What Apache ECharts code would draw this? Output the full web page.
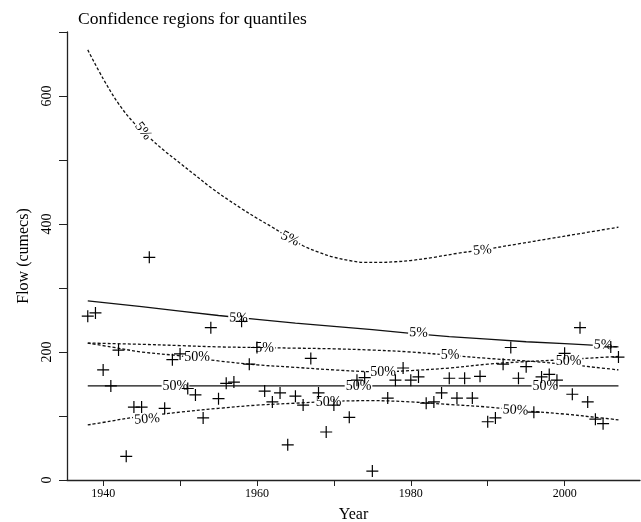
<!DOCTYPE html>
<html>
<head>
<meta charset="utf-8">
<script src="https://cdn.jsdelivr.net/npm/echarts@6/dist/echarts.min.js"></script>
<style>
  html, body { margin: 0; padding: 0; background: #fff; }
  #main { width: 641px; height: 522px; }
</style>
</head>
<body>
<div id="main"></div>
<script>
// observed annual maxima: [year, flow]
const obs = [
  [1938, 256], [1939, 261], [1940, 172], [1941, 147], [1942, 203], [1943, 37],
  [1944, 114], [1945, 114], [1946, 348], [1948, 112], [1949, 188], [1950, 197],
  [1951, 143], [1952, 133], [1953, 97], [1954, 238], [1955, 127], [1956, 151],
  [1957, 153], [1958, 248], [1959, 181], [1960, 207], [1961, 139], [1962, 122],
  [1963, 136], [1964, 55], [1965, 131], [1966, 117], [1967, 190], [1968, 136],
  [1969, 75], [1970, 117], [1972, 98], [1973, 156], [1974, 160], [1975, 14],
  [1977, 128], [1978, 156], [1979, 175], [1980, 156], [1981, 161], [1982, 120],
  [1983, 122], [1984, 136], [1985, 159], [1986, 128], [1987, 159], [1988, 128],
  [1989, 162], [1990, 91], [1991, 97], [1992, 181], [1993, 207], [1994, 159],
  [1995, 177], [1996, 106], [1997, 161], [1998, 165], [1999, 156], [2000, 198],
  [2001, 134], [2002, 238], [2003, 122], [2004, 95], [2005, 88], [2006, 208],
  [2007, 192]
];

// 5% quantile: estimate and bounds
const q5Upper = [
  [1938, 672], [1940, 627], [1942, 588], [1944, 558],
  [1946, 535], [1948, 514], [1950, 495], [1952, 476], [1954, 457], [1956, 440],
  [1958, 424], [1960, 409], [1962, 395], [1964, 380], [1966, 366], [1968, 356],
  [1970, 348], [1972, 343], [1974, 340], [1976, 340], [1978, 341], [1980, 343],
  [1983, 348], [1986, 354], [1990, 361], [1994, 369], [1998, 377], [2002, 385],
  [2007, 395]
];
const q5Est = [
  [1938, 280], [1945, 271], [1950, 264], [1955, 257], [1960, 251], [1965, 245],
  [1970, 240], [1975, 235], [1980, 229], [1985, 224], [1990, 220], [1995, 216],
  [2000, 213], [2003, 211], [2007, 208]
];
const q5Lower = [
  [1938, 214], [1945, 212], [1950, 210], [1955, 208], [1960, 207], [1965, 206],
  [1970, 205], [1975, 203], [1980, 200], [1985, 195], [1990, 190], [1995, 186],
  [2000, 181], [2004, 176], [2007, 172]
];

// 50% quantile: estimate and bounds
const q50Upper = [
  [1938, 214], [1941, 208], [1945, 200], [1950, 194], [1955, 186], [1960, 180],
  [1965, 176], [1970, 172], [1976, 169], [1980, 171], [1985, 175], [1990, 181],
  [1995, 185], [2000, 188], [2004, 191], [2007, 193]
];
const q50Est = [[1938, 147], [2007, 147]];
const q50Lower = [
  [1938, 86], [1941, 92], [1944, 98], [1947, 102], [1950, 106], [1955, 112],
  [1960, 117], [1965, 120], [1970, 123], [1975, 124], [1980, 122], [1985, 118],
  [1990, 114], [1995, 108], [2000, 103], [2004, 98], [2007, 94]
];

// where the curve labels sit: [year, flow]
const q5UpperLabels = [[1945.2, 545], [1964.3, 377], [1989.3, 359]];
const q5EstLabels = [[1957.6, 253], [1981, 230], [2005, 211]];
const q5LowerLabels = [[1961, 206], [1985.1, 195]];
const q50UpperLabels = [[1952.2, 192], [1976.4, 169], [2000.5, 186]];
const q50EstLabels = [[1949.4, 147], [1973.2, 147], [1997.5, 147]];
const q50LowerLabels = [[1945.7, 95], [1969.3, 121], [1993.6, 109]];

const yearTicks = [1940, 1950, 1960, 1970, 1980, 1990, 2000];
const yearLabels = [1940, 1960, 1980, 2000];
const flowTicks = [0, 100, 200, 300, 400, 500, 600, 700];
const flowLabels = [0, 200, 400, 600];

const serif = 'Liberation Serif';
const ink = '#111';

function curve(data, dashed) {
  return {
    type: 'line', data: data, symbol: 'none', silent: true,
    smooth: dashed ? 0.35 : false,
    lineStyle: { color: ink, width: 1.3, type: dashed ? [3, 2] : 'solid' },
    z: 2
  };
}
function labels(data, text, rot) {
  return {
    type: 'scatter', silent: true, symbolSize: 0, z: 3,
    itemStyle: { opacity: 1 },
    data: data.map((d, i) => ({
      value: d,
      label: { rotate: rot ? rot[i] : 0 }
    })),
    label: {
      show: true, position: 'inside', formatter: text,
      fontFamily: serif, fontSize: 14, color: '#000',
      backgroundColor: '#fff', padding: [0, 1]
    }
  };
}

const chart = echarts.init(document.getElementById('main'));
chart.setOption({
  animation: false,
  backgroundColor: '#fff',
  title: {
    text: 'Confidence regions for quantiles',
    left: 73, top: 5,
    textStyle: { fontFamily: serif, fontSize: 17.5, fontWeight: 'normal', color: '#000' }
  },
  grid: { left: 67, right: 1, top: 32, bottom: 42, containLabel: false, outerBoundsMode: 'none' },
  xAxis: {
    type: 'value', min: 1935.3, max: 2009.8,
    name: 'Year', nameLocation: 'middle', nameGap: 27,
    nameTextStyle: { fontFamily: serif, fontSize: 16, color: '#000' },
    axisLine: { lineStyle: { color: '#222', width: 1.3 } },
    axisTick: { customValues: yearTicks, length: 6, lineStyle: { color: '#222' } },
    axisLabel: {
      customValues: yearLabels, margin: 8, formatter: v => String(v),
      fontFamily: serif, fontSize: 12, color: '#000'
    },
    splitLine: { show: false }
  },
  yAxis: {
    type: 'value', min: 0, max: 700,
    name: 'Flow (cumecs)', nameLocation: 'middle', nameGap: 31,
    nameTextStyle: { fontFamily: serif, fontSize: 16, color: '#000' },
    axisLine: { show: true, lineStyle: { color: '#222', width: 1.3 } },
    axisTick: { show: true, customValues: flowTicks, length: 8, lineStyle: { color: '#222' } },
    axisLabel: {
      customValues: flowLabels, rotate: 90, margin: 13,
      fontFamily: serif, fontSize: 14, color: '#000'
    },
    splitLine: { show: false }
  },
  series: [
    curve(q5Upper, true),
    curve(q5Est, false),
    curve(q5Lower, true),
    curve(q50Upper, true),
    curve(q50Est, false),
    curve(q50Lower, true),
    labels(q5UpperLabels, '5%', [-52, -26, 6]),
    labels(q5EstLabels, '5%', [-3, -3, -3]),
    labels(q5LowerLabels, '5%'),
    labels(q50UpperLabels, '50%'),
    labels(q50EstLabels, '50%'),
    labels(q50LowerLabels, '50%', [4, 0, -3]),
    {
      type: 'scatter', data: obs, silent: true, z: 4,
      symbol: 'path://M0,5L10,5M5,0L5,10', symbolSize: 12,
      itemStyle: { color: 'transparent', borderColor: '#000', borderWidth: 1.2, opacity: 1 }
    }
  ]
});
</script>
</body>
</html>
